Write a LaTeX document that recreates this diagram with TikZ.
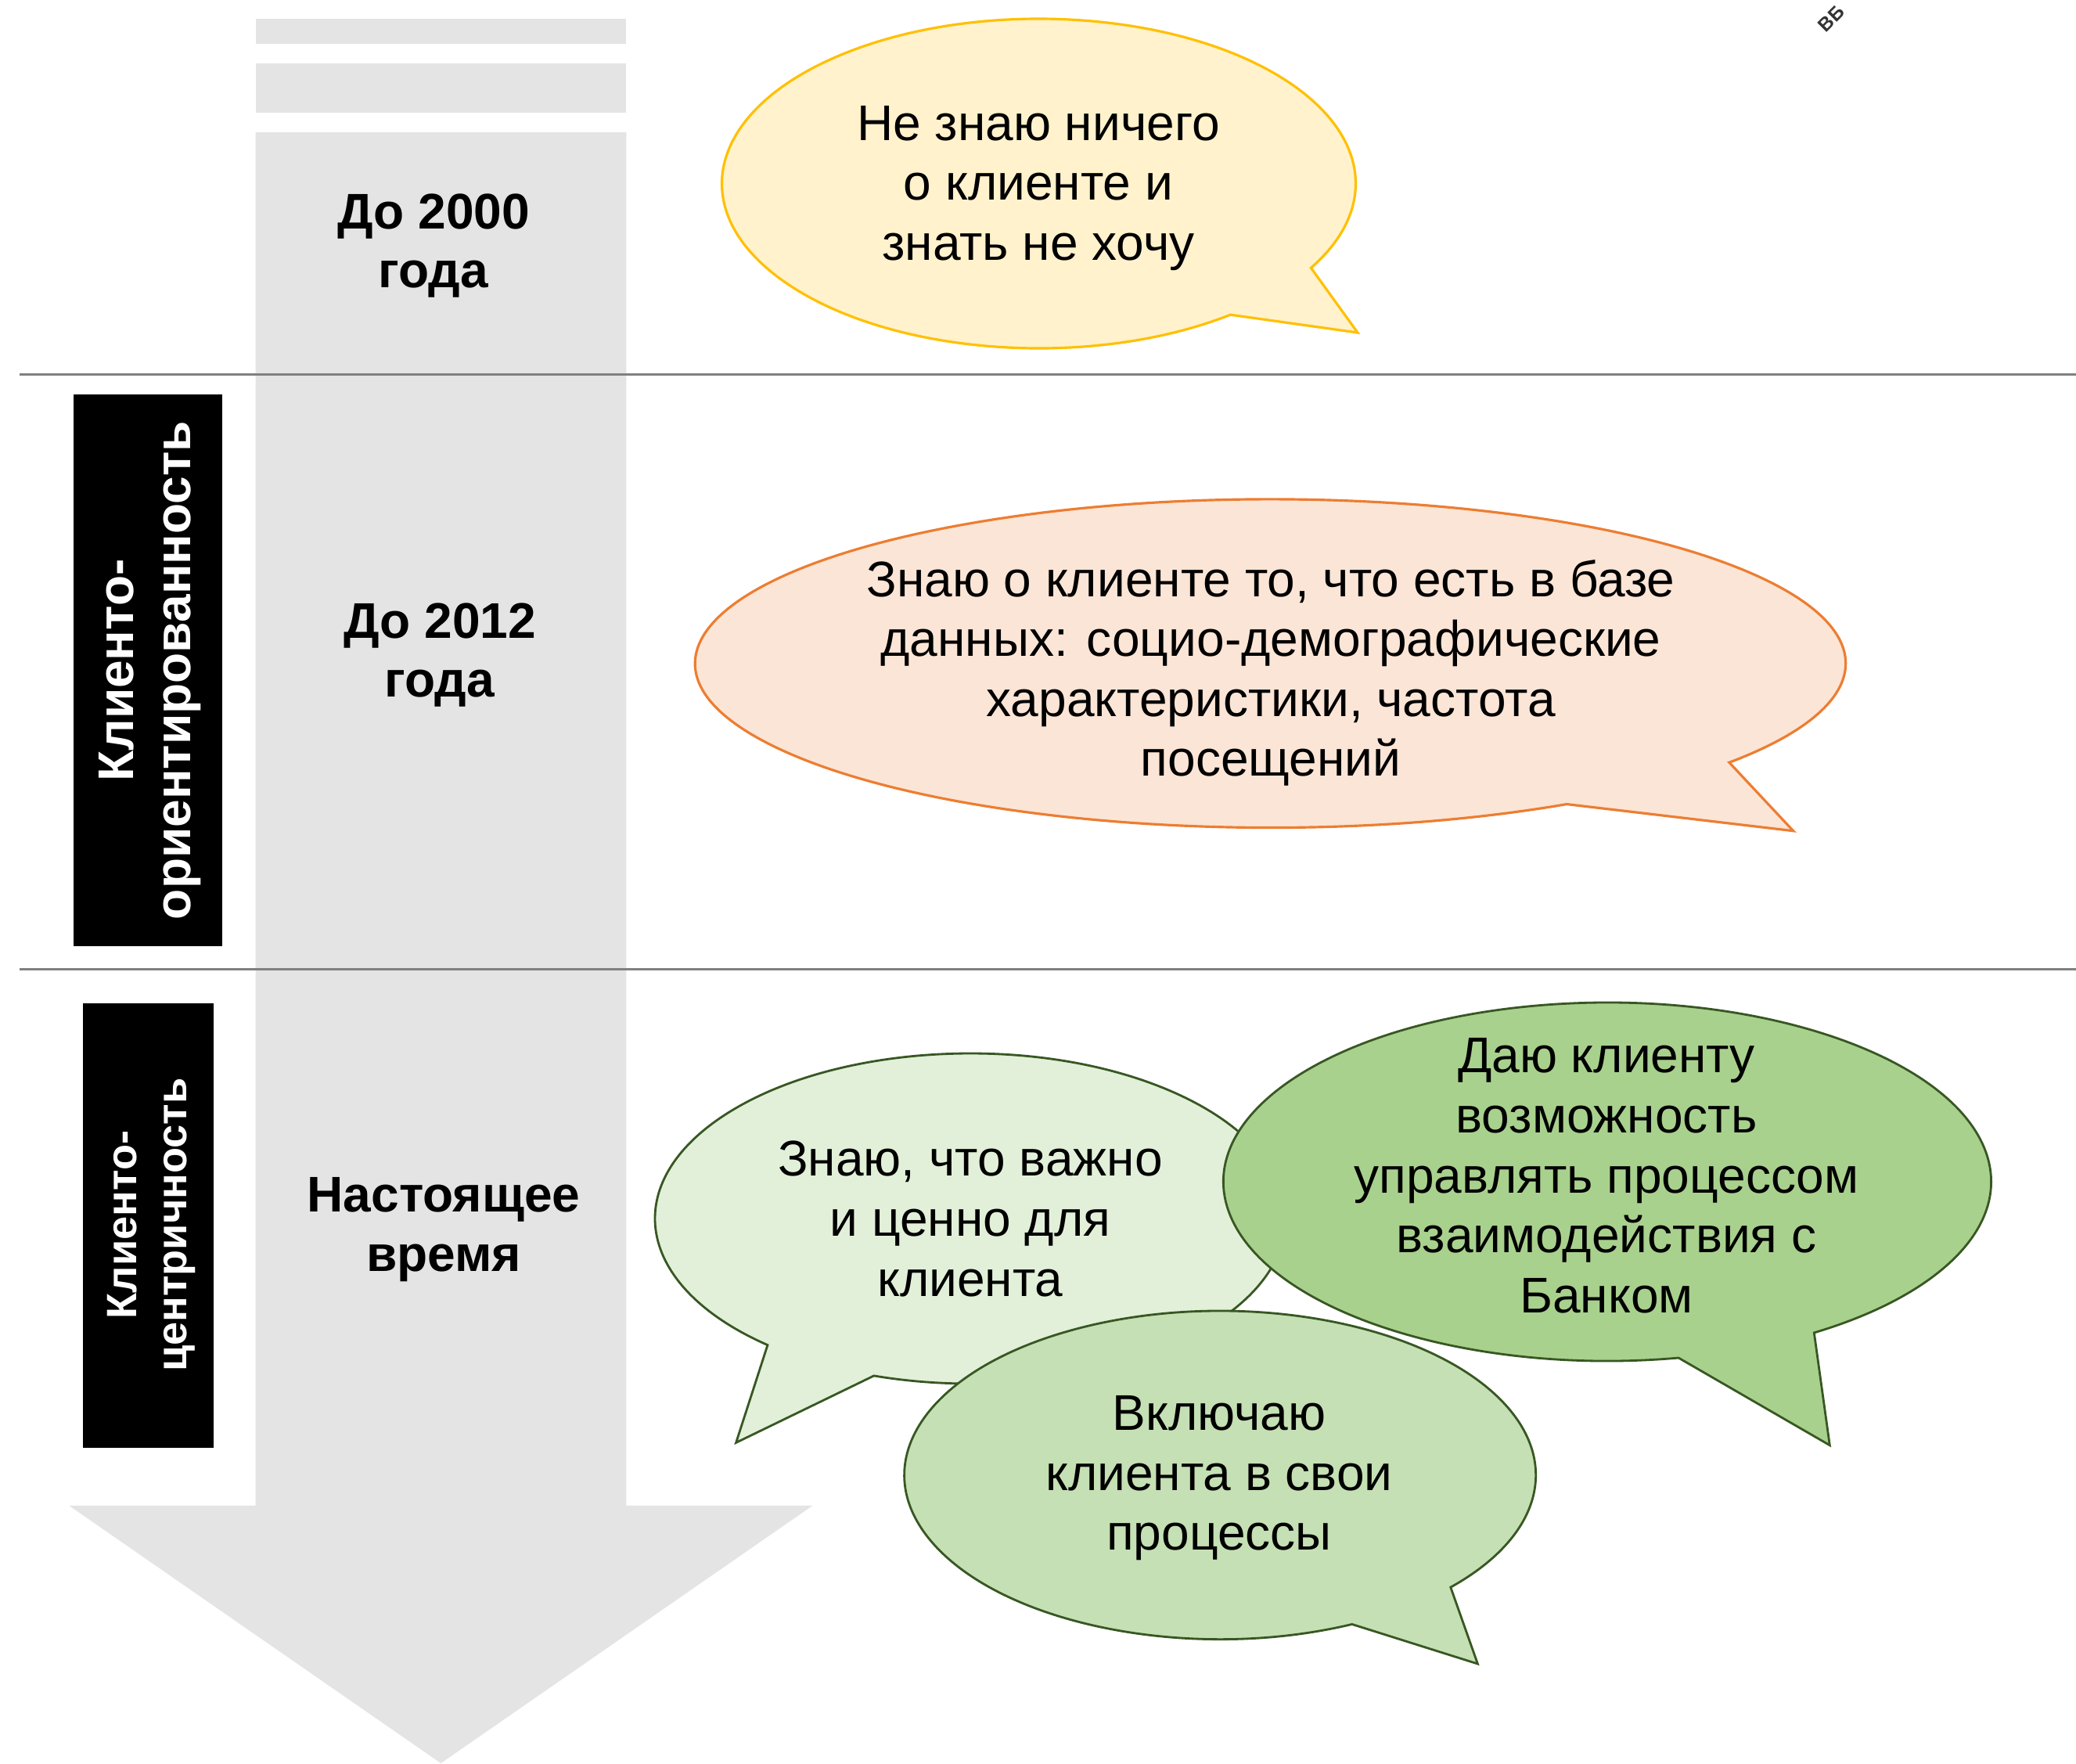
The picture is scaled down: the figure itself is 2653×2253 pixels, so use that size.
\documentclass[tikz,border=0pt]{standalone}
\usepackage{fontspec}
\setmainfont{Liberation Sans}
\definecolor{arrowgray}{HTML}{E5E4E5}
\definecolor{ylwfill}{HTML}{FFF2CC}
\definecolor{ylwline}{HTML}{FFC000}
\definecolor{orgfill}{HTML}{FBE5D6}
\definecolor{orgline}{HTML}{ED7D31}
\definecolor{gfillA}{HTML}{E2F0D9}
\definecolor{gfillB}{HTML}{A9D18E}
\definecolor{gfillC}{HTML}{C5E0B4}
\definecolor{gline}{HTML}{385723}
\definecolor{rulegray}{HTML}{808080}
\newcommand{\bubfont}{\fontsize{18.21pt}{21.77pt}\selectfont}
\newcommand{\labfont}{\bfseries\fontsize{18.21pt}{21.5pt}\selectfont}
\newcommand{\boxfontA}{\bfseries\fontsize{18.21pt}{20.8pt}\selectfont}
\newcommand{\boxfontB}{\bfseries\fontsize{15.4pt}{18.2pt}\selectfont}
% #1 style, #2 cx, #3 cy, #4 rx, #5 ry, #6 join angle a1, #7 join angle a2 (a1<a2), #8 tip x, #9 tip y
\newcommand{\speechbubble}[9]{%
  \filldraw[#1] (#2,#3) ++(#7:#4 and #5)
    arc[start angle=#7, end angle=#6+360, x radius=#4, y radius=#5]
    -- (#8,#9) -- cycle;}
\tikzset{
  bubtext/.style={align=center, text=black, font=\bubfont, inner sep=0pt},
  period/.style={align=center, text=black, font=\labfont, inner sep=0pt},
  sidetext/.style={align=center, text=white, rotate=90, inner sep=0pt},
  bubyellow/.style={fill=ylwfill, draw=ylwline, line width=0.9pt},
  buborange/.style={fill=orgfill, draw=orgline, line width=0.9pt},
  bubgreenA/.style={fill=gfillA, draw=gline, line width=0.8pt},
  bubgreenB/.style={fill=gfillB, draw=gline, line width=0.8pt},
  bubgreenC/.style={fill=gfillC, draw=gline, line width=0.8pt},
  sepline/.style={draw=rulegray, line width=0.85pt}
}
\begin{document}
\begin{tikzpicture}[x=0.01cm, y=0.01cm, yscale=-1]
\useasboundingbox (0,0) rectangle (2653,2253);
\fill[white] (0,0) rectangle (2653,2253);

% time arrow
\fill[arrowgray] (326.5,23.7) rectangle (800.3,55.8);
\fill[arrowgray] (326.5,81.2) rectangle (800.3,143.8);
\fill[arrowgray] (326.5,169.2) -- (800.3,169.2) -- (800.3,1923.8) -- (1038.5,1923.8)
  -- (563.4,2253) -- (88.3,1923.8) -- (326.5,1923.8) -- cycle;

% separators
\draw[sepline] (25,478.8) -- (2653,478.8);
\draw[sepline] (25,1238.5) -- (2653,1238.5);

% side labels
\fill[black] (94,504) rectangle (284,1209);
\node[sidetext, font=\boxfontA] (sideA) at (192,856.5) {Клиенто-\\ориентированность};
\fill[black] (106,1282) rectangle (273,1850);
\node[sidetext, font=\boxfontB] (sideB) at (193,1565) {Клиенто-\\центричность};

% periods
\node[period] (p2000) at (554,314) {До 2000\\года};
\node[period] (p2012) at (562,837) {До 2012\\года};
\node[period] (pnow) at (567,1571) {Настоящее\\время};

% bubbles
\speechbubble{bubyellow}{1327.5}{234.5}{405}{210.5}{30.8}{52.8}{1735}{425}
\node[bubtext] (b1) at (1327,240.5) {Не знаю ничего\\о клиенте и\\знать не хочу};

\speechbubble{buborange}{1623.5}{847.7}{735.2}{209.8}{37.1}{59.0}{2291.7}{1061.7}
\node[bubtext] (b2) at (1624,860) {Знаю о клиенте то, что есть в базе\\данных: социо-демографические\\характеристики, частота\\посещений};

\speechbubble{bubgreenA}{1240}{1557}{403}{211}{107.8}{130.0}{940.6}{1843.4}
\node[bubtext] (b3) at (1240,1557.4) {Знаю, что важно\\и ценно для\\клиента};

\speechbubble{bubgreenB}{2054}{1510}{490.6}{229}{57.4}{79.3}{2338.3}{1846.7}
\node[bubtext] (b4) at (2053,1502.3) {Даю клиенту\\возможность\\управлять процессом\\взаимодействия с\\Банком};

\speechbubble{bubgreenC}{1559.2}{1884.8}{403.5}{209.8}{43.1}{65.3}{1888.4}{2126}
\node[bubtext] (b5) at (1558,1889) {Включаю\\клиента в свои\\процессы};

% small corner fragment
\node[rotate=45, text=black!80, font=\bfseries\fontsize{7pt}{7pt}\selectfont, inner sep=0pt] (wm) at (2340,24) {ВБ};
\end{tikzpicture}
\end{document}
